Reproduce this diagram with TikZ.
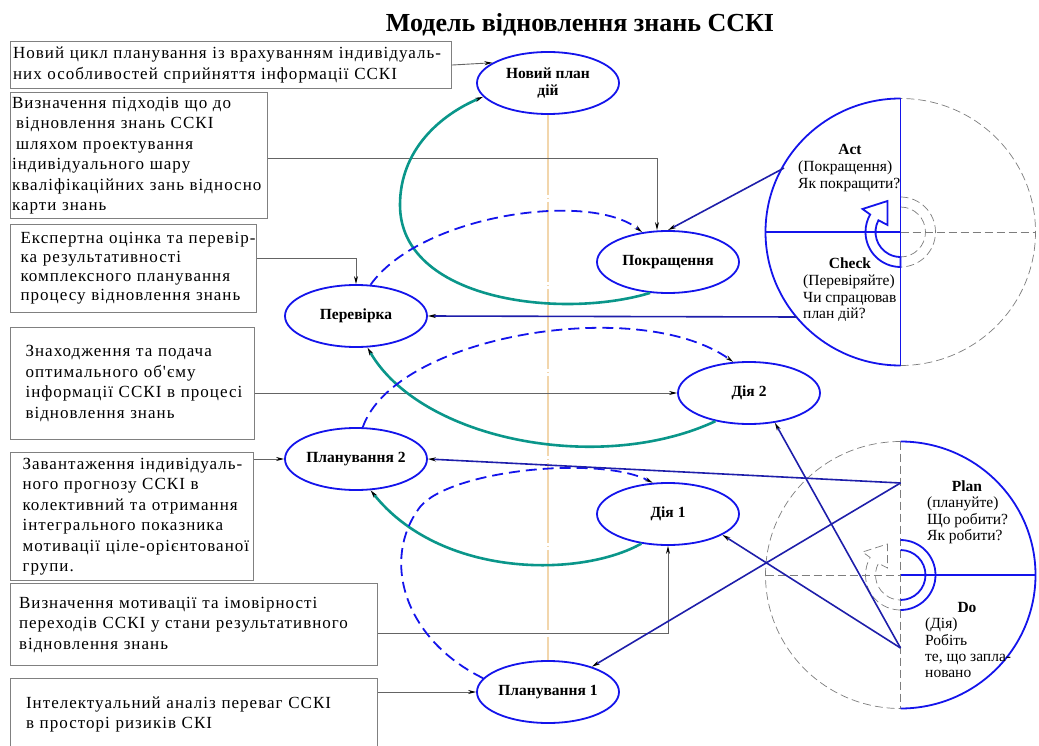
\documentclass[tikz,border=0pt]{standalone}
\usepackage{fontspec}
\setmainfont{Liberation Serif}
\newfontfamily\notefont[LetterSpace=6]{Liberation Serif}
\usepackage{tikz}
\usetikzlibrary{shapes.geometric, arrows.meta}
\definecolor{ovalblue}{RGB}{20,20,235}
\definecolor{linkblue}{RGB}{30,30,170}
\definecolor{loopteal}{RGB}{10,150,138}
\definecolor{boxgray}{RGB}{128,128,128}
\definecolor{feedgray}{RGB}{100,100,100}
\definecolor{guidegray}{RGB}{125,125,125}
\definecolor{axisorange}{RGB}{242,214,172}

\begin{document}
\begin{tikzpicture}[
    x=1pt, y=-1pt,
    tip/.style={-{Stealth[length=8pt, width=4pt, color=black]}},
    stage/.style={ellipse, draw=ovalblue, line width=1.8pt, minimum width=142pt, minimum height=62pt, inner sep=0pt, align=center, font=\bfseries\fontsize{15.5}{17}\selectfont},
    note/.style={rectangle, draw=boxgray, line width=1.1pt, anchor=north west, align=left, inner ysep=1pt, font=\notefont\fontsize{17}{20.5}\selectfont},
    feed/.style={tip, draw=feedgray, line width=0.9pt},
    loop/.style={tip, draw=loopteal, line width=2.6pt},
    plan/.style={tip, draw=ovalblue, line width=1.8pt, dash pattern=on 11pt off 6pt},
    link/.style={tip, draw=linkblue, line width=1.6pt},
    axis/.style={draw=axisorange, line width=2pt, dash pattern=on 80pt off 3pt on 1pt off 3pt},
    guide/.style={draw=guidegray, line width=0.7pt, dash pattern=on 8pt off 4pt},
    rim/.style={draw=ovalblue, line width=1.8pt},
    phasehead/.style={anchor=base, inner sep=0pt, font=\bfseries\fontsize{15.5}{16.3}\selectfont},
    phasetxt/.style={anchor=north west, inner sep=0pt, align=left, font=\fontsize{15.5}{16.3}\selectfont}
]
\useasboundingbox (0,0) rectangle (1039,746);
\clip (0,0) rectangle (1039,746);

\node[anchor=base, font=\bfseries\fontsize{26}{30}\selectfont] (title) at (580,32) {Модель відновлення знань ССКІ};

\node[stage] (newplan) at (548,83) {Новий план\\дій};
\node[stage] (pokr) at (668,262) {Покращення};
\node[stage] (perev) at (356,316) {Перевірка};
\node[stage] (dia2) at (749,393) {Дія 2};
\node[stage] (plan2) at (356,459) {Планування 2};
\node[stage] (dia1) at (668,514) {Дія 1};
\node[stage] (plan1) at (548,692) {Планування 1};

\node[note, text width=435pt, inner xsep=3pt, minimum height=47pt] (cycle) at (9.5,41) {\mbox{Новий цикл планування із врахуванням індивідуаль-}\\них особливостей сприйняття інформації ССКІ};
\node[note, text width=253.5pt, inner xsep=2pt, minimum height=126pt] (approach) at (9.5,92) {Визначення підходів що до\\\hspace*{4pt}відновлення знань ССКІ\\\hspace*{4pt}шляхом проектування\\індивідуального шару\\\mbox{кваліфікаційних зань відносно}\\карти знань};
\node[note, text width=225.5pt, inner xsep=10pt, minimum height=87.5pt, font=\notefont\fontsize{17}{19}\selectfont] (expert) at (10,224) {\mbox{Експертна оцінка та перевір-}\\ка результативності\\комплексного планування\\\mbox{процесу відновлення знань}};
\node[note, text width=213.5pt, inner xsep=15pt, minimum height=112pt] (search) at (10,327) {Знаходження та подача\\оптимального об'єму\\\mbox{інформації ССКІ в процесі}\\відновлення знань};
\node[note, text width=219pt, inner xsep=12pt, minimum height=128pt] (load) at (10,452) {\mbox{Завантаження індивідуаль-}\\ного прогнозу ССКІ в\\\mbox{колективний та отримання}\\інтегрального показника\\\mbox{мотивації ціле-орієнтованої}\\групи.};
\node[note, text width=349.5pt, inner xsep=9pt, minimum height=82pt] (motive) at (9.5,583) {Визначення мотивації та імовірності\\\mbox{переходів ССКІ у стани результативного}\\відновлення знань};
\node[note, text width=335.5pt, inner xsep=16pt, minimum height=72pt] (risk) at (9.5,678) {Інтелектуальний аналіз переваг ССКІ\\в просторі ризиків СКІ};

\coordinate (topcycle) at (900.5,232);
\coordinate (lowcycle) at (900.5,575);
\coordinate (actpt) at (784,168);
\coordinate (checkpt) at (797,317);
\coordinate (planpt) at (900.5,483);
\coordinate (dopt) at (900.5,648);

\draw[axis] (newplan.south) -- (plan1.north);

\begin{scope}[shift={(topcycle)}, y=1pt]
  \draw[guide] (0,-133.5) arc[start angle=-90, end angle=90, x radius=135, y radius=133.5];
  \draw[guide] (0,0) -- (135,0);
  \draw[guide] (0,35) arc[start angle=90, end angle=-90, radius=35];
  \draw[guide] (0,25) arc[start angle=90, end angle=-90, radius=25];
  \draw[rim] (0,133.5) arc[start angle=90, end angle=270, x radius=135, y radius=133.5];
  \draw[rim] (0,133.5) -- (0,-133.5);
  \draw[rim] (-135,0) -- (0,0);
  \draw[rim] (0,-35) arc[start angle=-90, end angle=-210, radius=35] -- (-38,23) -- (-13,31) -- (-13,7) -- (152:25) arc[start angle=152, end angle=270, radius=25] -- cycle;
\end{scope}

\begin{scope}[shift={(lowcycle)}, y=1pt]
  \draw[guide] (0,133.5) arc[start angle=90, end angle=270, x radius=135, y radius=133.5];
  \draw[guide] (0,133.5) -- (0,-133.5);
  \draw[guide] (-135,0) -- (0,0);
  \draw[guide] (0,-35) arc[start angle=-90, end angle=-210, radius=35] -- (-38,23) -- (-13,31) -- (-13,7) -- (152:25) arc[start angle=152, end angle=270, radius=25] -- cycle;
  \draw[rim] (0,-133.5) arc[start angle=-90, end angle=90, x radius=135, y radius=133.5];
  \draw[rim] (0,0) -- (135,0);
  \draw[rim] (0,35) arc[start angle=90, end angle=-90, radius=35];
  \draw[rim] (0,25) arc[start angle=90, end angle=-90, radius=25];
\end{scope}

\node[phasehead] (act) at (850,155) {Act};
\node[phasetxt] (acttxt) at (798,161) {(Покращення)\\Як покращити?};
\node[phasehead] (check) at (850,269) {Check};
\node[phasetxt] (checktxt) at (803,275) {(Перевіряйте)\\Чи спрацював\\план дій?};
\node[phasehead] (plan) at (967,491) {Plan};
\node[phasetxt] (plantxt) at (927,497) {(плануйте)\\Що робити?\\Як робити?};
\node[phasehead] (do) at (967,612) {Do};
\node[phasetxt] (dotxt) at (925,618) {(Дія)\\Робіть\\те, що запла-\\новано};

\draw[feed] (cycle.east) -- (newplan.160);
\draw[feed] ([yshift=-3pt]approach.east) -| ([xshift=-11pt]pokr.north);
\draw[feed] ([yshift=10pt]expert.east) -| (perev.north);
\draw[feed] (search.east |- dia2.west) -- (dia2.west);
\draw[feed] (load.east |- plan2.west) -- (plan2.west);
\draw[feed] ([yshift=-9pt]motive.east) -| (dia1.south);
\draw[feed] (risk.east |- plan1.west) -- (plan1.west);

\draw[loop] (pokr.240) .. controls (560,320) and (400,300) .. (400,205) .. controls (400,150) and (440,115) .. (newplan.192);
\draw[loop] (dia2.220) .. controls (600,475) and (420,440) .. (perev.290);
\draw[loop] (dia1.228) .. controls (580,578) and (440,578) .. (plan2.295);

\draw[plan] (perev.65) .. controls (420,215) and (590,190) .. (pokr.131);
\draw[plan] (plan2.78) .. controls (395,335) and (640,295) .. (dia2.117);
\draw[plan] (plan1.168) .. controls (405,640) and (380,560) .. (420,507) .. controls (450,470) and (600,455) .. (dia1.116);

\draw[link] (actpt) -- (pokr.north);
\draw[link] (checkpt) -- (perev.east);
\draw[link] (planpt) -- (plan2.east);
\draw[link] (planpt) -- (plan1.30);
\draw[link] (dopt) -- (dia2.311);
\draw[link] (dopt) -- (dia1.339);
\end{tikzpicture}
\end{document}
